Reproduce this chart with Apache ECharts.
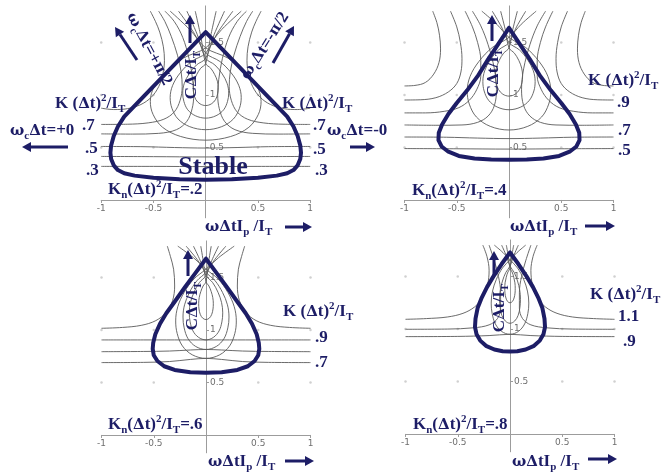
<!DOCTYPE html>
<html>
<head>
<meta charset="utf-8">
<script src="https://cdn.jsdelivr.net/npm/echarts@6.0.0/dist/echarts.min.js"></script>
<style>
  html, body { margin: 0; padding: 0; background: #ffffff; }
  #chart { width: 667px; height: 474px; }
</style>
</head>
<body>
<div id="chart"></div>
<script>
// Stability maps of a time-stepped rotor model:
// horizontal axis ωΔtIp/IT, vertical axis CΔt/IT, one panel per Kn(Δt)²/IT.

const NAVY = '#1d1d66';
const GRAY = '#5a5a5a';

const xTicks = [-1, -0.5, 0.5, 1];
const yTicks = [0.5, 1, 1.5];
const dotX = [-1, -0.5, 0.5, 1];
const dotY = [0.5, 1, 1.5];
const knLabels = ['.2', '.4', '.6', '.8'];

// ---------- Kn(Δt)²/IT = .2 ----------
const p1Boundary = [[0,1.60],[-0.3,1.29],[-0.6,0.98],[-0.78,0.795],[-0.84,0.70],[-0.88,0.61],[-0.905,0.52],[-0.912,0.45],[-0.905,0.39],[-0.88,0.33],[-0.84,0.285],[-0.78,0.255],[-0.68,0.232],[-0.5,0.212],[-0.25,0.197],[0,0.192],[0.25,0.197],[0.5,0.212],[0.68,0.232],[0.78,0.255],[0.84,0.285],[0.88,0.33],[0.905,0.39],[0.912,0.45],[0.905,0.52],[0.88,0.61],[0.84,0.70],[0.78,0.795],[0.6,0.98],[0.3,1.29],[0,1.60]];
const p1K3 = [[-1,0.32],[-0.5,0.32],[0,0.318],[0.5,0.32],[1,0.32]];
const p1K4 = [[-1,0.415],[-0.5,0.413],[0,0.41],[0.5,0.413],[1,0.415]];
const p1K5 = [[-1,0.51],[-0.6,0.508],[-0.3,0.50],[0,0.495],[0.3,0.50],[0.6,0.508],[1,0.51]];
const p1K6L = [[-1,0.63],[-0.7,0.628],[-0.45,0.635],[-0.28,0.67],[-0.18,0.75],[-0.13,0.87],[-0.115,1.0],[-0.125,1.15],[-0.16,1.35],[-0.22,1.55],[-0.30,1.70],[-0.39,1.80]];
const p1K6R = [[1,0.63],[0.7,0.628],[0.45,0.635],[0.28,0.67],[0.18,0.75],[0.13,0.87],[0.115,1.0],[0.125,1.15],[0.16,1.35],[0.22,1.55],[0.30,1.70],[0.39,1.80]];
const p1K7L = [[-1,0.72],[-0.75,0.722],[-0.55,0.735],[-0.40,0.77],[-0.30,0.84],[-0.245,0.95],[-0.225,1.08],[-0.235,1.22],[-0.27,1.38],[-0.33,1.56],[-0.39,1.70],[-0.45,1.80]];
const p1K7R = [[1,0.72],[0.75,0.722],[0.55,0.735],[0.40,0.77],[0.30,0.84],[0.245,0.95],[0.225,1.08],[0.235,1.22],[0.27,1.38],[0.33,1.56],[0.39,1.70],[0.45,1.80]];
const p1K8L = [[-1,0.875],[-0.88,0.862],[-0.75,0.87],[-0.62,0.91],[-0.52,0.98],[-0.45,1.08],[-0.41,1.2],[-0.395,1.33],[-0.405,1.46],[-0.44,1.6],[-0.48,1.7],[-0.53,1.8]];
const p1K8R = [[1,0.875],[0.88,0.862],[0.75,0.87],[0.62,0.91],[0.52,0.98],[0.45,1.08],[0.41,1.2],[0.395,1.33],[0.405,1.46],[0.44,1.6],[0.48,1.7],[0.53,1.8]];
const p1W1 = [[-0.10,1.80],[-0.045,1.55],[0,1.30],[0.048,1.256],[0.086,1.196],[0.112,1.132],[0.12,1.068],[0.114,1.012],[0.094,0.956],[0.054,0.916],[0,0.90],[-0.054,0.916],[-0.094,0.956],[-0.114,1.012],[-0.12,1.068],[-0.112,1.132],[-0.086,1.196],[-0.048,1.256],[0,1.30],[0.045,1.55],[0.10,1.80]];
const p1W2 = [[-0.18,1.80],[-0.08,1.575],[0,1.35],[0.088,1.287],[0.158,1.202],[0.205,1.111],[0.22,1.019],[0.209,0.940],[0.172,0.860],[0.099,0.803],[0,0.78],[-0.099,0.803],[-0.172,0.860],[-0.209,0.940],[-0.22,1.019],[-0.205,1.111],[-0.158,1.202],[-0.088,1.287],[0,1.35],[0.08,1.575],[0.18,1.80]];
const p1W3 = [[-0.26,1.80],[-0.117,1.60],[0,1.40],[0.136,1.320],[0.245,1.210],[0.316,1.093],[0.34,0.977],[0.323,0.874],[0.265,0.772],[0.153,0.699],[0,0.67],[-0.153,0.699],[-0.265,0.772],[-0.323,0.874],[-0.34,0.977],[-0.316,1.093],[-0.245,1.210],[-0.136,1.320],[0,1.40],[0.117,1.60],[0.26,1.80]];
const p1W4 = [[-0.34,1.80],[-0.153,1.625],[0,1.45],[0.212,1.353],[0.382,1.221],[0.493,1.080],[0.53,0.940],[0.504,0.816],[0.413,0.693],[0.239,0.605],[0,0.57],[-0.239,0.605],[-0.413,0.693],[-0.504,0.816],[-0.53,0.940],[-0.493,1.080],[-0.382,1.221],[-0.212,1.353],[0,1.45],[0.153,1.625],[0.34,1.80]];

// ---------- Kn(Δt)²/IT = .4 ----------
const p2Boundary = [[0,1.64],[-0.1,1.49],[-0.2,1.34],[-0.3,1.18],[-0.4,1.045],[-0.5,0.925],[-0.58,0.82],[-0.64,0.72],[-0.672,0.64],[-0.675,0.57],[-0.645,0.51],[-0.58,0.46],[-0.48,0.42],[-0.33,0.395],[-0.17,0.385],[0,0.383],[0.17,0.385],[0.33,0.395],[0.48,0.42],[0.58,0.46],[0.645,0.51],[0.675,0.57],[0.672,0.64],[0.64,0.72],[0.58,0.82],[0.5,0.925],[0.4,1.045],[0.3,1.18],[0.2,1.34],[0.1,1.49],[0,1.64]];
const p2K5 = [[-1,0.49],[-0.5,0.488],[0,0.485],[0.5,0.488],[1,0.49]];
const p2K6 = [[-1,0.60],[-0.6,0.598],[-0.3,0.59],[0,0.585],[0.3,0.59],[0.6,0.598],[1,0.60]];
const p2K7L = [[-1,0.715],[-0.7,0.712],[-0.45,0.715],[-0.30,0.74],[-0.20,0.80],[-0.14,0.90],[-0.12,1.05],[-0.14,1.25],[-0.20,1.48],[-0.27,1.66],[-0.35,1.80]];
const p2K7R = [[1,0.715],[0.7,0.712],[0.45,0.715],[0.30,0.74],[0.20,0.80],[0.14,0.90],[0.12,1.05],[0.14,1.25],[0.20,1.48],[0.27,1.66],[0.35,1.80]];
const p2K8L = [[-1,0.83],[-0.8,0.83],[-0.62,0.845],[-0.48,0.88],[-0.38,0.95],[-0.31,1.05],[-0.27,1.18],[-0.27,1.33],[-0.30,1.5],[-0.35,1.65],[-0.42,1.80]];
const p2K8R = [[1,0.83],[0.8,0.83],[0.62,0.845],[0.48,0.88],[0.38,0.95],[0.31,1.05],[0.27,1.18],[0.27,1.33],[0.30,1.5],[0.35,1.65],[0.42,1.80]];
const p2K9L = [[-1,0.953],[-0.85,0.955],[-0.7,0.975],[-0.58,1.03],[-0.5,1.11],[-0.46,1.22],[-0.45,1.35],[-0.465,1.5],[-0.5,1.65],[-0.56,1.80]];
const p2K9R = [[1,0.953],[0.85,0.955],[0.7,0.975],[0.58,1.03],[0.5,1.11],[0.46,1.22],[0.45,1.35],[0.465,1.5],[0.5,1.65],[0.56,1.80]];
const p2K10L = [[-1,1.087],[-0.9,1.092],[-0.8,1.12],[-0.72,1.2],[-0.67,1.31],[-0.655,1.44],[-0.665,1.57],[-0.69,1.69],[-0.73,1.80]];
const p2K10R = [[1,1.087],[0.9,1.092],[0.8,1.12],[0.72,1.2],[0.67,1.31],[0.655,1.44],[0.665,1.57],[0.69,1.69],[0.73,1.80]];
const p2W1 = [[-0.08,1.80],[-0.036,1.625],[0,1.45],[0.052,1.399],[0.094,1.330],[0.121,1.257],[0.13,1.183],[0.124,1.119],[0.101,1.054],[0.059,1.008],[0,0.99],[-0.059,1.008],[-0.101,1.054],[-0.124,1.119],[-0.13,1.183],[-0.121,1.257],[-0.094,1.330],[-0.052,1.399],[0,1.45],[0.036,1.625],[0.08,1.80]];
const p2W2 = [[-0.16,1.80],[-0.072,1.65],[0,1.50],[0.10,1.430],[0.18,1.334],[0.233,1.231],[0.25,1.129],[0.238,1.039],[0.195,0.950],[0.113,0.886],[0,0.86],[-0.113,0.886],[-0.195,0.950],[-0.238,1.039],[-0.25,1.129],[-0.233,1.231],[-0.18,1.334],[-0.10,1.430],[0,1.50],[0.072,1.65],[0.16,1.80]];
const p2W3 = [[-0.26,1.80],[-0.117,1.675],[0,1.55],[0.16,1.453],[0.288,1.320],[0.372,1.179],[0.40,1.038],[0.38,0.914],[0.312,0.791],[0.18,0.702],[0,0.667],[-0.18,0.702],[-0.312,0.791],[-0.38,0.914],[-0.40,1.038],[-0.372,1.179],[-0.288,1.320],[-0.16,1.453],[0,1.55],[0.117,1.675],[0.26,1.80]];

// ---------- Kn(Δt)²/IT = .6 ----------
const p3Boundary = [[0,1.68],[-0.1,1.545],[-0.2,1.41],[-0.3,1.27],[-0.38,1.16],[-0.44,1.06],[-0.485,0.96],[-0.505,0.88],[-0.51,0.82],[-0.5,0.76],[-0.465,0.705],[-0.4,0.655],[-0.3,0.62],[-0.15,0.597],[0,0.592],[0.15,0.597],[0.3,0.62],[0.4,0.655],[0.465,0.705],[0.5,0.76],[0.51,0.82],[0.505,0.88],[0.485,0.96],[0.44,1.06],[0.38,1.16],[0.3,1.27],[0.2,1.41],[0.1,1.545],[0,1.68]];
const p3K7 = [[-1,0.69],[-0.6,0.692],[-0.35,0.70],[-0.15,0.72],[0,0.73],[0.15,0.72],[0.35,0.70],[0.6,0.692],[1,0.69]];
const p3K8 = [[-1,0.794],[-0.6,0.796],[-0.35,0.80],[-0.15,0.81],[0,0.815],[0.15,0.81],[0.35,0.80],[0.6,0.796],[1,0.794]];
const p3K9 = [[-1,0.906],[-0.6,0.906],[-0.3,0.906],[0,0.906],[0.3,0.906],[0.6,0.906],[1,0.906]];
const p3K10L = [[-1,1.017],[-0.8,1.025],[-0.62,1.045],[-0.48,1.09],[-0.38,1.17],[-0.32,1.28],[-0.30,1.42],[-0.31,1.58],[-0.34,1.70],[-0.37,1.80]];
const p3K10R = [[1,1.017],[0.8,1.025],[0.62,1.045],[0.48,1.09],[0.38,1.17],[0.32,1.28],[0.30,1.42],[0.31,1.58],[0.34,1.70],[0.37,1.80]];
const p3W0 = [[-0.05,1.80],[-0.022,1.63],[0,1.46],[0.028,1.420],[0.05,1.366],[0.065,1.309],[0.07,1.251],[0.067,1.201],[0.055,1.150],[0.032,1.114],[0,1.10],[-0.032,1.114],[-0.055,1.150],[-0.067,1.201],[-0.07,1.251],[-0.065,1.309],[-0.05,1.366],[-0.028,1.420],[0,1.46],[0.022,1.63],[0.05,1.80]];
const p3W1 = [[-0.12,1.80],[-0.054,1.66],[0,1.52],[0.064,1.452],[0.115,1.360],[0.149,1.262],[0.16,1.164],[0.152,1.078],[0.125,0.992],[0.072,0.931],[0,0.906],[-0.072,0.931],[-0.125,0.992],[-0.152,1.078],[-0.16,1.164],[-0.149,1.262],[-0.115,1.360],[-0.064,1.452],[0,1.52],[0.054,1.66],[0.12,1.80]];
const p3W3 = [[-0.19,1.80],[-0.086,1.675],[0,1.55],[0.088,1.469],[0.158,1.359],[0.205,1.241],[0.22,1.124],[0.209,1.021],[0.172,0.918],[0.099,0.844],[0,0.815],[-0.099,0.844],[-0.172,0.918],[-0.209,1.021],[-0.22,1.124],[-0.205,1.241],[-0.158,1.359],[-0.088,1.469],[0,1.55],[0.086,1.675],[0.19,1.80]];
const p3W2 = [[-0.27,1.80],[-0.12,1.69],[0,1.58],[0.116,1.487],[0.209,1.359],[0.27,1.223],[0.29,1.087],[0.276,0.968],[0.226,0.849],[0.131,0.764],[0,0.73],[-0.131,0.764],[-0.226,0.849],[-0.276,0.968],[-0.29,1.087],[-0.27,1.223],[-0.209,1.359],[-0.116,1.487],[0,1.58],[0.12,1.69],[0.27,1.80]];

// ---------- Kn(Δt)²/IT = .8 ----------
const p4Boundary = [[0,1.73],[-0.08,1.62],[-0.16,1.50],[-0.22,1.40],[-0.27,1.30],[-0.31,1.20],[-0.33,1.10],[-0.335,1.02],[-0.32,0.95],[-0.285,0.89],[-0.23,0.84],[-0.15,0.805],[-0.07,0.788],[0,0.785],[0.07,0.788],[0.15,0.805],[0.23,0.84],[0.285,0.89],[0.32,0.95],[0.335,1.02],[0.33,1.10],[0.31,1.20],[0.27,1.30],[0.22,1.40],[0.16,1.50],[0.08,1.62],[0,1.73]];
const p4K9 = [[-1,0.928],[-0.5,0.93],[-0.2,0.938],[0,0.95],[0.2,0.938],[0.5,0.93],[1,0.928]];
const p4K10L = [[-1,0.998],[-0.6,1.0],[-0.35,1.012],[-0.2,1.04],[-0.12,1.10],[-0.09,1.2],[-0.09,1.35],[-0.11,1.5],[-0.15,1.65],[-0.20,1.80]];
const p4K10R = [[1,0.998],[0.6,1.0],[0.35,1.012],[0.2,1.04],[0.12,1.10],[0.09,1.2],[0.09,1.35],[0.11,1.5],[0.15,1.65],[0.20,1.80]];
const p4K11L = [[-1,1.093],[-0.8,1.10],[-0.6,1.115],[-0.45,1.15],[-0.34,1.21],[-0.26,1.3],[-0.215,1.42],[-0.2,1.56],[-0.22,1.69],[-0.26,1.80]];
const p4K11R = [[1,1.093],[0.8,1.10],[0.6,1.115],[0.45,1.15],[0.34,1.21],[0.26,1.3],[0.215,1.42],[0.2,1.56],[0.22,1.69],[0.26,1.80]];
const p4W0 = [[-0.035,1.80],[-0.016,1.69],[0,1.58],[0.02,1.544],[0.036,1.494],[0.047,1.441],[0.05,1.389],[0.048,1.342],[0.039,1.296],[0.023,1.263],[0,1.25],[-0.023,1.263],[-0.039,1.296],[-0.048,1.342],[-0.05,1.389],[-0.047,1.441],[-0.036,1.494],[-0.02,1.544],[0,1.58],[0.016,1.69],[0.035,1.80]];
const p4W1 = [[-0.08,1.80],[-0.036,1.70],[0,1.60],[0.04,1.540],[0.072,1.458],[0.093,1.371],[0.10,1.284],[0.095,1.208],[0.078,1.131],[0.045,1.077],[0,1.055],[-0.045,1.077],[-0.078,1.131],[-0.095,1.208],[-0.10,1.284],[-0.093,1.371],[-0.072,1.458],[-0.04,1.540],[0,1.60],[0.036,1.70],[0.08,1.80]];
const p4W2 = [[-0.15,1.80],[-0.068,1.73],[0,1.66],[0.072,1.582],[0.13,1.475],[0.167,1.362],[0.18,1.248],[0.171,1.149],[0.14,1.049],[0.081,0.978],[0,0.95],[-0.081,0.978],[-0.14,1.049],[-0.171,1.149],[-0.18,1.248],[-0.167,1.362],[-0.13,1.475],[-0.072,1.582],[0,1.66],[0.068,1.73],[0.15,1.80]];

const panels = [
  { boundary: p1Boundary, curves: [p1K3, p1K4, p1K5, p1K6L, p1K6R, p1K7L, p1K7R, p1K8L, p1K8R, p1W1, p1W2, p1W3, p1W4] },
  { boundary: p2Boundary, curves: [p2K5, p2K6, p2K7L, p2K7R, p2K8L, p2K8R, p2K9L, p2K9R, p2K10L, p2K10R, p2W1, p2W2, p2W3] },
  { boundary: p3Boundary, curves: [p3K7, p3K8, p3K9, p3K10L, p3K10R, p3W0, p3W1, p3W3, p3W2] },
  { boundary: p4Boundary, curves: [p4K9, p4K10L, p4K10R, p4K11L, p4K11R, p4W0, p4W1, p4W2] }
];

// plot boxes: x in [-1,1], y in [-0.17,1.85]
const boxes = [
  { left: 101.2, top: 5.9 },
  { left: 404.5, top: 5.9 },
  { left: 101.5, top: 240.9 },
  { left: 405.5, top: 239.9 }
];
const BOX_W = 209, BOX_H = 211.9, Y_MIN = -0.17, Y_MAX = 1.85;
const PX_PER_Y = BOX_H / (Y_MAX - Y_MIN);

const grids = [], xAxes = [], yAxes = [], series = [];
const dots = [];
dotY.forEach(y => dotX.forEach(x => dots.push([x, y])));

const AXIS_GRAY = '#9c9c9c';
boxes.forEach((b, i) => {
  grids.push({ left: b.left, top: b.top, width: BOX_W, height: BOX_H, containLabel: false });
  // x axis drawn through y = 0, y axis drawn through x = 0
  xAxes.push({
    type: 'value', gridIndex: i, min: -1, max: 1, position: 'bottom',
    offset: Y_MIN * PX_PER_Y,
    axisLine: { show: true, onZero: false, lineStyle: { color: AXIS_GRAY, width: 1 } },
    axisTick: { show: true, length: 3, customValues: xTicks, lineStyle: { color: AXIS_GRAY } },
    axisLabel: { customValues: xTicks, color: '#6e6e6e', fontSize: 9, fontFamily: 'DejaVu Sans', margin: 4 },
    splitLine: { show: false }
  });
  yAxes.push({
    type: 'value', gridIndex: i, min: Y_MIN, max: Y_MAX, position: 'left',
    offset: -BOX_W / 2,
    axisLine: { show: true, onZero: false, lineStyle: { color: AXIS_GRAY, width: 1 } },
    axisTick: { show: true, inside: true, length: 3, customValues: yTicks, lineStyle: { color: AXIS_GRAY } },
    axisLabel: { inside: true, customValues: yTicks, color: '#6e6e6e', fontSize: 9, fontFamily: 'DejaVu Sans', margin: 4 },
    splitLine: { show: false }
  });
  series.push({
    type: 'scatter', xAxisIndex: i, yAxisIndex: i, data: dots,
    symbolSize: 2.5, itemStyle: { color: '#c4c4c4' }, silent: true, z: 1
  });
  panels[i].curves.forEach(c => series.push({
    type: 'line', xAxisIndex: i, yAxisIndex: i, data: c, smooth: 0.35,
    symbol: 'none', silent: true, lineStyle: { color: GRAY, width: 0.9 }, z: 2
  }));
  series.push({
    type: 'line', xAxisIndex: i, yAxisIndex: i, data: panels[i].boundary,
    symbol: 'none', silent: true,
    lineStyle: { color: NAVY, width: 4, join: 'round', cap: 'round' }, z: 4
  });
});

// ---------- annotations ----------
const SERIF = 'Liberation Serif';
const rich = {
  b: { fontFamily: SERIF, fontWeight: 'bold', fontSize: 17, fill: NAVY, lineHeight: 22 },
  g: { fontFamily: 'DejaVu Serif', fontWeight: 'bold', fontSize: 15, fill: NAVY, lineHeight: 22 },
  sup: { fontFamily: SERIF, fontWeight: 'bold', fontSize: 11, fill: NAVY, lineHeight: 12, verticalAlign: 'top' },
  sub: { fontFamily: SERIF, fontWeight: 'bold', fontSize: 11, fill: NAVY, lineHeight: 8, verticalAlign: 'bottom' },
  big: { fontFamily: SERIF, fontWeight: 'bold', fontSize: 26, fill: NAVY, lineHeight: 28 }
};
const T_K = '{b|K (}{g|Δ}{b|t)}{sup|2}{b|/I}{sub|T}';
const T_KN = v => '{b|K}{sub|n}{b|(}{g|Δ}{b|t)}{sup|2}{b|/I}{sub|T}{b|=' + v + '}';
const T_X = '{g|ωΔ}{b|tI}{sub|p}{b| /I}{sub|T}';
const T_Y = '{b|C}{g|Δ}{b|t/I}{sub|T}';
const T_W = v => '{g|ω}{sub|c}{g|Δ}{b|t=' + v + '}';
const T_WPI = s => '{g|ω}{sub|c}{g|Δ}{b|t=' + s + '}{g|π}{b|/2}';

function label(text, x, y, opt) {
  opt = opt || {};
  return {
    type: 'text', x: x, y: y, rotation: opt.rot || 0, z: 20,
    style: { text: text, rich: rich, align: opt.align || 'left', verticalAlign: 'middle', fill: NAVY }
  };
}
function arrow(x1, y1, x2, y2) {
  const dx = x2 - x1, dy = y2 - y1, L = Math.hypot(dx, dy);
  const ux = dx / L, uy = dy / L, hl = 9, hw = 5;
  const bx = x2 - ux * hl, by = y2 - uy * hl;
  return [
    { type: 'line', z: 20, shape: { x1: x1, y1: y1, x2: bx, y2: by }, style: { stroke: NAVY, lineWidth: 3 } },
    { type: 'polygon', z: 20, shape: { points: [[x2, y2], [bx - uy * hw, by + ux * hw], [bx + uy * hw, by - ux * hw]] }, style: { fill: NAVY } }
  ];
}

const graphics = [
  // Kn = .2
  label(T_K, 55, 104), label(T_K, 282, 104),
  label('{b|.7}', 82, 126), label('{b|.5}', 85, 149), label('{b|.3}', 86, 171),
  label('{b|.7}', 313, 126), label('{b|.5}', 313, 150), label('{b|.3}', 315, 171),
  label(T_W('+0'), 10, 131), label(T_W('-0'), 327, 131),
  label('{big|Stable}', 213, 167, { align: 'center' }),
  label(T_KN(knLabels[0]), 108, 190),
  label(T_X, 205, 227),
  label(T_Y, 192, 75, { rot: Math.PI / 2, align: 'center' }),
  label(T_WPI('+'), 149, 49, { rot: -1.08, align: 'center' }),
  label(T_WPI('-'), 265, 46, { rot: 1.01, align: 'center' }),
  // Kn = .4
  label(T_K, 588, 81),
  label('{b|.9}', 617, 103), label('{b|.7}', 618, 131), label('{b|.5}', 618, 151),
  label(T_KN(knLabels[1]), 412, 191),
  label(T_X, 510, 227),
  label(T_Y, 494, 73, { rot: Math.PI / 2, align: 'center' }),
  // Kn = .6
  label(T_K, 283, 312),
  label('{b|.9}', 315, 338), label('{b|.7}', 315, 363),
  label(T_KN(knLabels[2]), 108, 425),
  label(T_X, 208, 462),
  label(T_Y, 193, 306, { rot: Math.PI / 2, align: 'center' }),
  // Kn = .8
  label(T_K, 590, 295),
  label('{b|1.1}', 618, 317), label('{b|.9}', 623, 342),
  label(T_KN(knLabels[3]), 413, 425),
  label(T_X, 512, 462),
  label(T_Y, 500, 308, { rot: Math.PI / 2, align: 'center' })
].concat(
  arrow(68, 147, 22, 147), arrow(350, 147, 375, 147),
  arrow(137, 60, 115, 27), arrow(273, 63, 294, 26),
  arrow(190, 43, 190, 15), arrow(492, 41, 492, 15),
  arrow(188, 276, 188, 250), arrow(494, 276, 494, 251),
  arrow(285, 227, 312, 227), arrow(585, 226, 615, 226),
  arrow(285, 461, 314, 461), arrow(588, 459, 617, 459)
);

const chart = echarts.init(document.getElementById('chart'), null, { renderer: 'canvas' });
chart.setOption({
  animation: false,
  backgroundColor: '#ffffff',
  grid: grids,
  xAxis: xAxes,
  yAxis: yAxes,
  series: series,
  graphic: graphics
});
</script>
</body>
</html>
